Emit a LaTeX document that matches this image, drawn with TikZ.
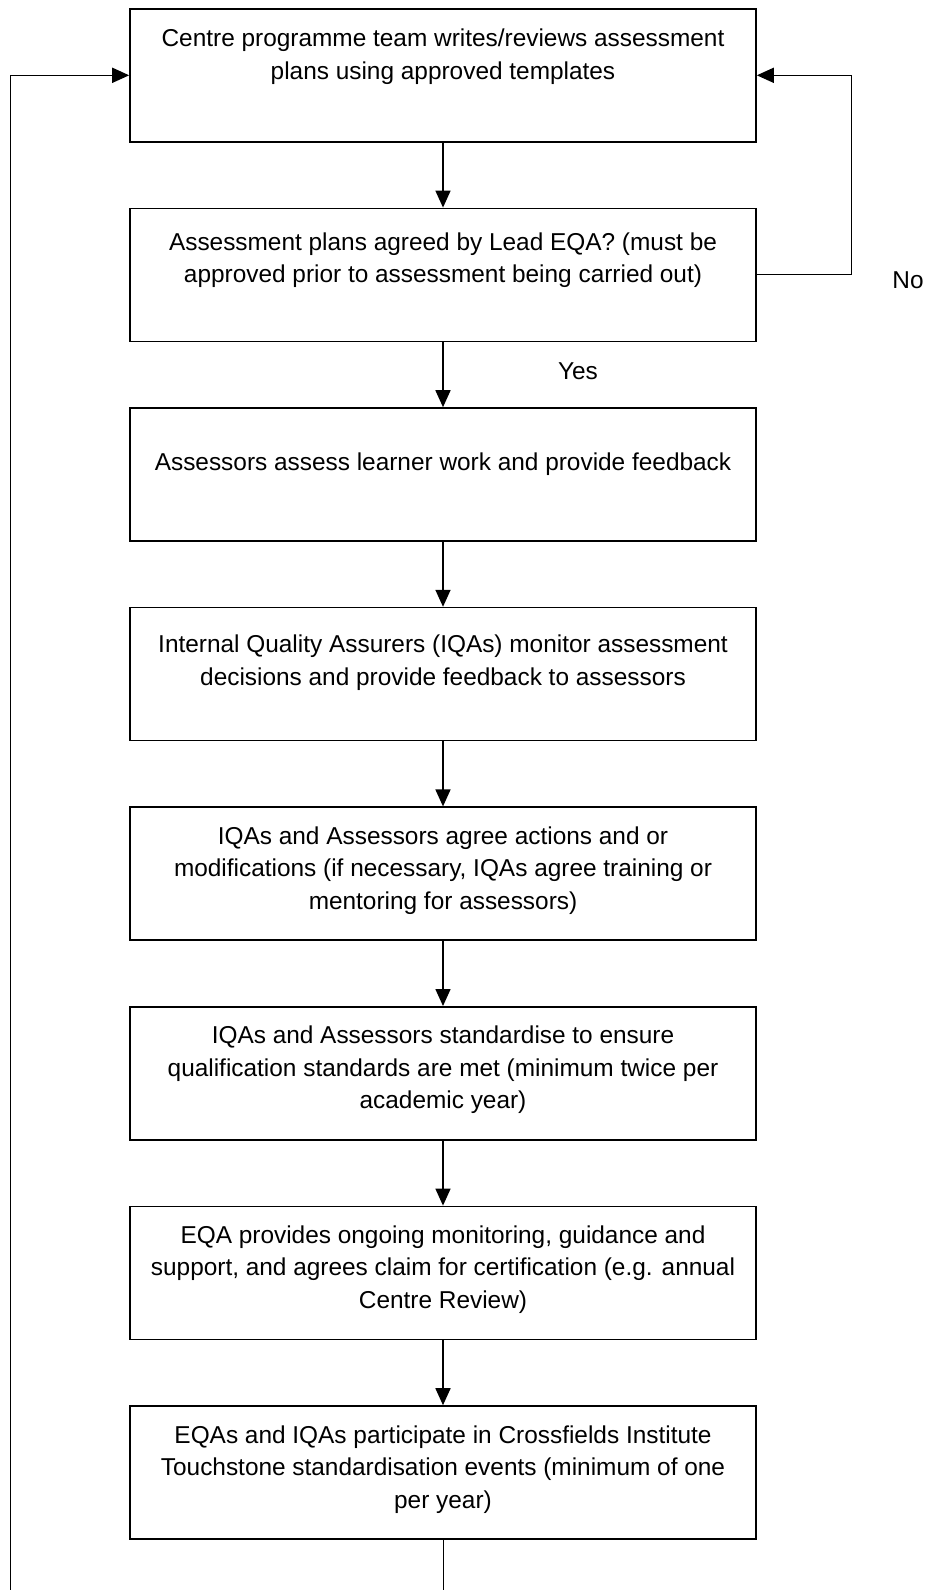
\documentclass[tikz,border=0pt]{standalone}
\usepackage{fontspec}
\setmainfont{Liberation Sans}
\usetikzlibrary{positioning,arrows.meta}

\def\boxw{626pt}
\def\boxh{133pt}
\newcommand\stagetext[2][37pt]{\parbox[t][\boxh][t]{\boxw}{\centering\rule{0pt}{#1}#2}}

\begin{document}
\begin{tikzpicture}[x=1pt, y=-1pt,
                    >={Triangle[length=17pt,width=15pt]}, line cap=butt,
                    font=\fontsize{24.4}{32.5}\selectfont,
                    stage/.style={draw, line width=1.6pt, inner sep=0pt, anchor=north},
                    link/.style={->, line width=1.6pt},
                    back/.style={line width=1pt}
                   ]

        \useasboundingbox (0,0) rectangle (926,1590);

        % the eight stages, top to bottom
        \node [stage] (plan) at (443,8)
          {\stagetext[38pt]{Centre programme team writes/reviews assessment\\
                      plans using approved templates}};
        \node [stage, below=65pt of plan] (agree)
          {\stagetext[42pt]{Assessment plans agreed by Lead EQA? (must be\\
                      approved prior to assessment being carried out)}};
        \node [stage, below=65pt of agree] (assess)
          {\stagetext[62pt]{Assessors assess learner work and provide feedback}};
        \node [stage, below=65pt of assess] (iqa)
          {\stagetext[45pt]{Internal Quality Assurers (IQAs) monitor assessment\\
                      decisions and provide feedback to assessors}};
        \node [stage, below=65pt of iqa] (actions)
          {\stagetext{IQAs and Assessors agree actions and or\\
                      modifications (if necessary, IQAs agree training or\\
                      mentoring for assessors)}};
        \node [stage, below=65pt of actions] (stand)
          {\stagetext{IQAs and Assessors standardise to ensure\\
                      qualification standards are met (minimum twice per\\
                      academic year)}};
        \node [stage, below=65pt of stand] (eqa)
          {\stagetext{EQA provides ongoing monitoring, guidance and\\
                      support, and agrees claim for certification (e.g. annual\\
                      Centre Review)}};
        \node [stage, below=65pt of eqa] (events)
          {\stagetext{EQAs and IQAs participate in Crossfields Institute\\
                      Touchstone standardisation events (minimum of one\\
                      per year)}};

        \foreach \a/\b in {plan/agree, agree/assess, assess/iqa, iqa/actions,
                           actions/stand, stand/eqa, eqa/events}
            \draw [link] (\a) -- (\b);

        % loop back on the left
        \coordinate (lbot) at (10,1590);
        \coordinate (cbot) at (443,1590);
        \draw [back] (events) -- (cbot);
        \draw [back] (lbot) -- (lbot |- plan.west);
        \draw [link] (lbot |- plan.west) -- (plan.west);

        % "No" loop on the right
        \coordinate (rside) at (851,0);
        \draw [back] (agree.east) -| (rside |- plan.east);
        \draw [link] (rside |- plan.east) -- (plan.east);

        \node (no)  at (908,280) {No};
        \node (yes) at (578,371) {Yes};
    \end{tikzpicture}
\end{document}
